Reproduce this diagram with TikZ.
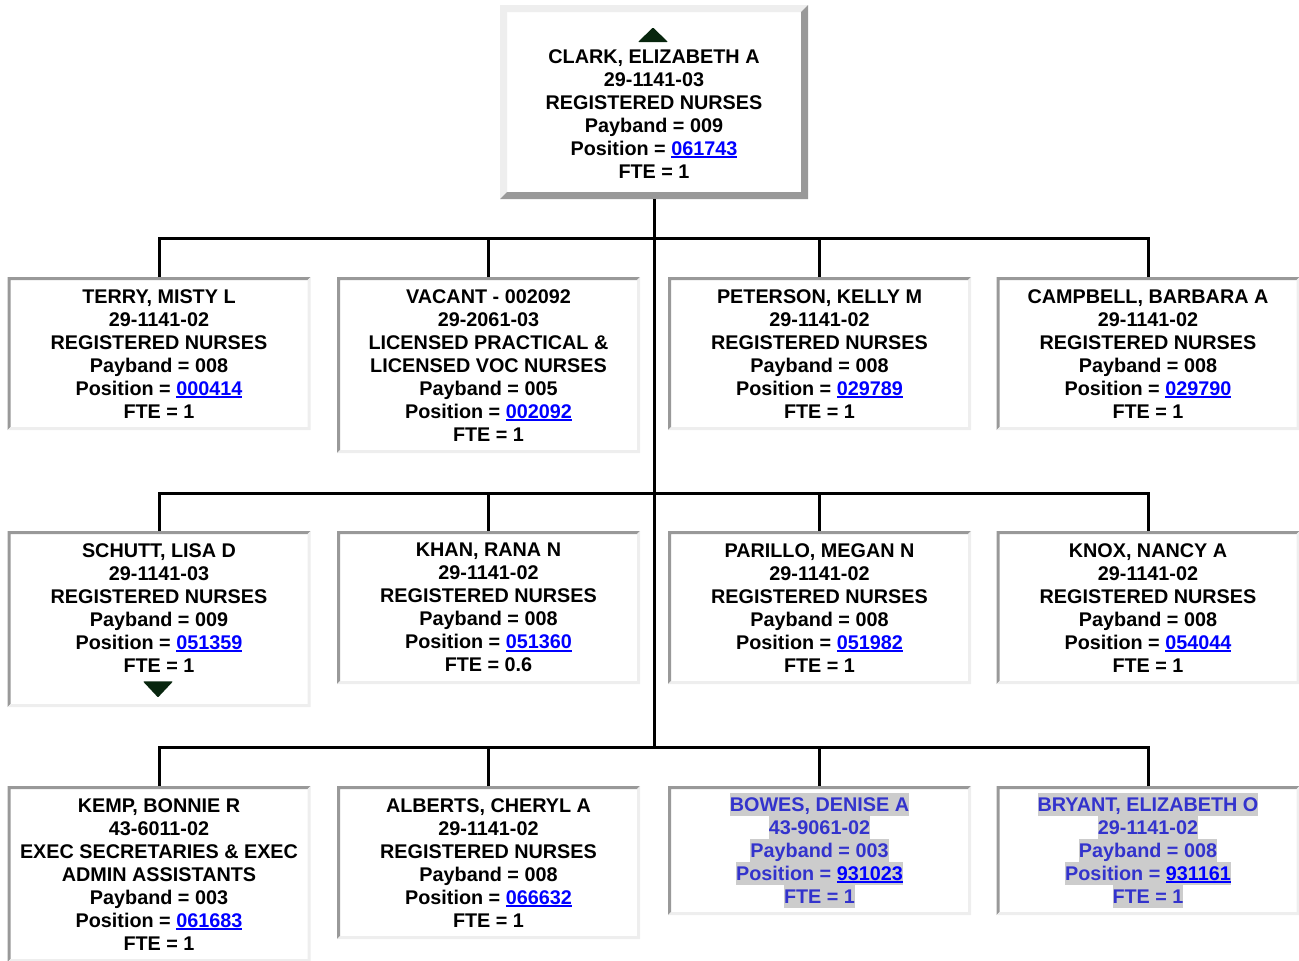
\documentclass[tikz,border=0pt]{standalone}
\usepackage{fontspec}
\usepackage{tikz}
\usetikzlibrary{positioning,calc}
\newfontfamily\chartfont{Liberation Sans}
\definecolor{LinkBlue}{RGB}{0,0,255}
\definecolor{OpenBlue}{RGB}{51,51,204}
\definecolor{HiGray}{RGB}{204,204,204}
\definecolor{EdgeDark}{RGB}{153,153,153}
\definecolor{EdgeLight}{RGB}{238,238,238}
\definecolor{TriGreen}{RGB}{8,38,14}
\newsavebox\lnkbox
\newcommand{\lnk}[1]{{\color{LinkBlue}\sbox\lnkbox{#1}\rlap{\rule[-3pt]{\wd\lnkbox}{1.8pt}}\usebox\lnkbox}}
\newcommand{\hl}[1]{{\setlength{\fboxsep}{0pt}\colorbox{HiGray}{\rule[-5pt]{0pt}{23pt}#1}}}
\tikzset{
  card/.style={fill=white,anchor=north,minimum width=303pt,inner sep=0pt,align=center,
    font=\chartfont\bfseries\fontsize{19.8}{23}\selectfont},
  bevel/.style n args={3}{path picture={
    \fill[#2] (path picture bounding box.south west) -- (path picture bounding box.north west)
      -- (path picture bounding box.north east) -- ([xshift=-#1,yshift=-#1]path picture bounding box.north east)
      -- ([xshift=#1,yshift=-#1]path picture bounding box.north west) -- ([xshift=#1,yshift=#1]path picture bounding box.south west) -- cycle;
    \fill[#3] (path picture bounding box.south west) -- (path picture bounding box.south east)
      -- (path picture bounding box.north east) -- ([xshift=-#1,yshift=-#1]path picture bounding box.north east)
      -- ([xshift=-#1,yshift=#1]path picture bounding box.south east) -- ([xshift=#1,yshift=#1]path picture bounding box.south west) -- cycle;
  }},
  inset/.style={bevel={3pt}{EdgeDark}{EdgeLight}},
  outset/.style={bevel={7pt}{EdgeLight}{EdgeDark}},
  open/.style={text=OpenBlue},
  wire/.style={draw=black,line width=3pt},
  tri/.style={fill=TriGreen,rounded corners=0.8pt},
}

\begin{document}
\begin{tikzpicture}[x=1pt,y=-1pt]
\useasboundingbox (0,0) rectangle (1299,961);
% top
\node[card,outset,minimum width=308pt,minimum height=194pt] (clark) at (654,5)
  {\rule{0pt}{14pt}\\CLARK, ELIZABETH A\\29-1141-03\\REGISTERED NURSES\\Payband = 009\\Position = \lnk{061743}\\FTE = 1};
% row 1
\node[card,inset,minimum height=153pt] (terry) at (159,277)
  {TERRY, MISTY L\\29-1141-02\\REGISTERED NURSES\\Payband = 008\\Position = \lnk{000414}\\FTE = 1};
\node[card,inset,minimum height=176pt] (vacant) at (488.5,277)
  {VACANT - 002092\\29-2061-03\\LICENSED PRACTICAL \&\\LICENSED VOC NURSES\\Payband = 005\\Position = \lnk{002092}\\FTE = 1};
\node[card,inset,minimum height=153pt] (peterson) at (819.5,277)
  {PETERSON, KELLY M\\29-1141-02\\REGISTERED NURSES\\Payband = 008\\Position = \lnk{029789}\\FTE = 1};
\node[card,inset,minimum height=153pt] (campbell) at (1148,277)
  {CAMPBELL, BARBARA A\\29-1141-02\\REGISTERED NURSES\\Payband = 008\\Position = \lnk{029790}\\FTE = 1};
% row 2
\node[card,inset,minimum height=176pt] (schutt) at (159,531)
  {SCHUTT, LISA D\\29-1141-03\\REGISTERED NURSES\\Payband = 009\\Position = \lnk{051359}\\FTE = 1\\\mbox{}};
\node[card,inset,minimum height=153pt] (khan) at (488.5,531)
  {KHAN, RANA N\\29-1141-02\\REGISTERED NURSES\\Payband = 008\\Position = \lnk{051360}\\FTE = 0.6};
\node[card,inset,minimum height=153pt] (parillo) at (819.5,531)
  {PARILLO, MEGAN N\\29-1141-02\\REGISTERED NURSES\\Payband = 008\\Position = \lnk{051982}\\FTE = 1};
\node[card,inset,minimum height=153pt] (knox) at (1148,531)
  {KNOX, NANCY A\\29-1141-02\\REGISTERED NURSES\\Payband = 008\\Position = \lnk{054044}\\FTE = 1};
% row 3
\node[card,inset,minimum height=176pt] (kemp) at (159,786)
  {KEMP, BONNIE R\\43-6011-02\\EXEC SECRETARIES \& EXEC\\ADMIN ASSISTANTS\\Payband = 003\\Position = \lnk{061683}\\FTE = 1};
\node[card,inset,minimum height=153pt] (alberts) at (488.5,786)
  {ALBERTS, CHERYL A\\29-1141-02\\REGISTERED NURSES\\Payband = 008\\Position = \lnk{066632}\\FTE = 1};
\node[card,inset,open,minimum height=129pt] (bowes) at (819.5,786)
  {\hl{BOWES, DENISE A}\\\hl{43-9061-02}\\\hl{Payband = 003}\\\hl{Position = \lnk{931023}}\\\hl{FTE = 1}};
\node[card,inset,open,minimum height=129pt] (bryant) at (1148,786)
  {\hl{BRYANT, ELIZABETH O}\\\hl{29-1141-02}\\\hl{Payband = 008}\\\hl{Position = \lnk{931161}}\\\hl{FTE = 1}};
% connectors
\coordinate (j1) at (654,238);
\coordinate (j2) at (654,493);
\coordinate (j3) at (654,747);
\draw[wire] (clark.south) -- (j3);
\draw[wire] (terry.north) |- (j1);
\draw[wire] (vacant.north) |- (j1);
\draw[wire] (peterson.north) |- (j1);
\draw[wire] (campbell.north) |- (j1);
\draw[wire] (schutt.north) |- (j2);
\draw[wire] (khan.north) |- (j2);
\draw[wire] (parillo.north) |- (j2);
\draw[wire] (knox.north) |- (j2);
\draw[wire] (kemp.north) |- (j3);
\draw[wire] (alberts.north) |- (j3);
\draw[wire] (bowes.north) |- (j3);
\draw[wire] (bryant.north) |- (j3);
% arrows up/down
\coordinate (up) at ($(clark.north)+(-1,30)$);
\coordinate (down) at ($(schutt.south)+(-1,-18)$);
\fill[tri] ($(up)+(-15,7)$) -- ($(up)+(15,7)$) -- ($(up)+(0,-7.5)$) -- cycle;
\fill[tri] ($(down)+(-15,-8)$) -- ($(down)+(15,-8)$) -- ($(down)+(0,8)$) -- cycle;
\end{tikzpicture}
\end{document}
